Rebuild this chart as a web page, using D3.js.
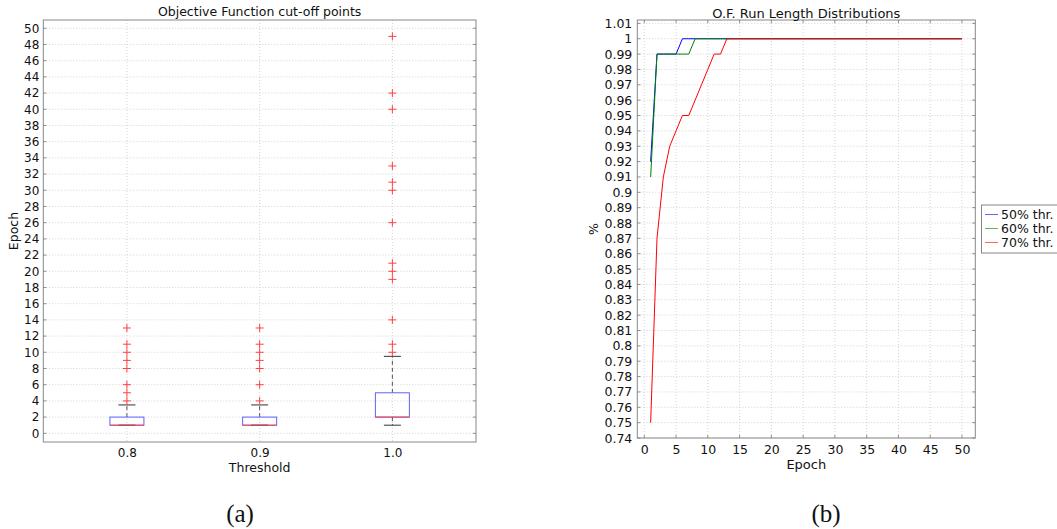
<!DOCTYPE html>
<html><head><meta charset="utf-8">
<script src="https://cdn.jsdelivr.net/npm/d3@7"></script>
<style>body{margin:0;background:#fff}svg{display:block}text{fill:#111;font-family:"DejaVu Sans",sans-serif}text.serif{font-family:"Liberation Serif",serif}</style>
</head><body><svg id="c" width="1057" height="529"></svg>
<script>
// ---- Panel (a) data ----
const categories = ["0.8", "0.9", "1.0"];
const q1 = [1, 1, 2];
const medians = [1, 1, 2];
const q3 = [2, 2, 5];
const whiskerLow = [1, 1, 1];
const whiskerHigh = [3.5, 3.5, 9.5];
const outliers08 = [4, 5, 6, 8, 9, 10, 11, 13];
const outliers09 = [4, 6, 8, 9, 10, 11, 13];
const outliers10 = [10, 11, 14, 19, 20, 21, 26, 30, 31, 33, 40, 42, 49];
const epochTicksA = [0,2,4,6,8,10,12,14,16,18,20,22,24,26,28,30,32,34,36,38,40,42,44,46,48,50];

// ---- Panel (b) data ----
const epochs = d3.range(1, 51);
const thr50 = [0.92,0.99,0.99,0.99,0.99,1,1,1,1,1, 1,1,1,1,1,1,1,1,1,1, 1,1,1,1,1,1,1,1,1,1, 1,1,1,1,1,1,1,1,1,1, 1,1,1,1,1,1,1,1,1,1];
const thr60 = [0.91,0.99,0.99,0.99,0.99,0.99,0.99,1,1,1, 1,1,1,1,1,1,1,1,1,1, 1,1,1,1,1,1,1,1,1,1, 1,1,1,1,1,1,1,1,1,1, 1,1,1,1,1,1,1,1,1,1];
const thr70 = [0.75,0.87,0.91,0.93,0.94,0.95,0.95,0.96,0.97,0.98, 0.99,0.99,1,1,1,1,1,1,1,1, 1,1,1,1,1,1,1,1,1,1, 1,1,1,1,1,1,1,1,1,1, 1,1,1,1,1,1,1,1,1,1];
const seriesNames = ["50% thr.", "60% thr.", "70% thr."];
const seriesColors = ["#0000ff", "#008000", "#ff0000"];
const pctTicks = [0.74,0.75,0.76,0.77,0.78,0.79,0.8,0.81,0.82,0.83,0.84,0.85,0.86,0.87,0.88,0.89,0.9,0.91,0.92,0.93,0.94,0.95,0.96,0.97,0.98,0.99,1,1.01];
const epochTicksB = [0,5,10,15,20,25,30,35,40,45,50];

const svg = d3.select("#c");
const gridStyle = g => g.attr("stroke", "#c8c8c8").attr("stroke-width", 0.8).attr("stroke-dasharray", "1,2");

// ================= Panel (a) =================
{
  const L = 43.3, R = 476, T = 20, B = 442;
  const x = d3.scaleLinear().domain([0.37, 3.63]).range([L, R]);
  const y = d3.scaleLinear().domain([-1.074, 51.02]).range([B, T]);
  const g = svg.append("g");
  g.append("g").selectAll("line").data(epochTicksA).join("line")
    .attr("x1", L).attr("x2", R).attr("y1", d => y(d)).attr("y2", d => y(d)).call(gridStyle);
  g.append("g").selectAll("line").data(categories).join("line")
    .attr("x1", (d, i) => x(i + 1)).attr("x2", (d, i) => x(i + 1)).attr("y1", T).attr("y2", B).call(gridStyle);
  const ya = d3.axisLeft(y).tickValues(epochTicksA).tickSize(0).tickPadding(4);
  g.append("g").attr("transform", `translate(${L},0)`).call(ya)
    .call(a => a.select(".domain").remove())
    .selectAll("text").attr("font-size", 12).attr("fill", "#111");
  const xa = d3.axisBottom(x).tickValues([1, 2, 3]).tickFormat((d) => categories[d - 1]).tickSize(0).tickPadding(6);
  g.append("g").attr("transform", `translate(0,${B})`).call(xa)
    .call(a => a.select(".domain").remove())
    .selectAll("text").attr("font-size", 12).attr("fill", "#111");
  epochTicksA.forEach(d => {
    g.append("line").attr("x1", L).attr("x2", L + 3).attr("y1", y(d)).attr("y2", y(d)).attr("stroke", "#444").attr("stroke-width", 0.6);
    g.append("line").attr("x1", R).attr("x2", R - 3).attr("y1", y(d)).attr("y2", y(d)).attr("stroke", "#444").attr("stroke-width", 0.6);
  });
  const bw = 34, cw = 17;
  const outl = [outliers08, outliers09, outliers10];
  categories.forEach((c, i) => {
    const cx = x(i + 1);
    g.append("line").attr("x1", cx).attr("x2", cx).attr("y1", y(q3[i])).attr("y2", y(whiskerHigh[i]))
      .attr("stroke", "#555").attr("stroke-dasharray", "4,3").attr("stroke-width", 1);
    g.append("line").attr("x1", cx).attr("x2", cx).attr("y1", y(q1[i])).attr("y2", y(whiskerLow[i]))
      .attr("stroke", "#555").attr("stroke-dasharray", "4,3").attr("stroke-width", 1);
    g.append("rect").attr("x", cx - bw / 2).attr("y", y(q3[i])).attr("width", bw).attr("height", y(q1[i]) - y(q3[i]))
      .attr("fill", "none").attr("stroke", "#6060ff").attr("stroke-width", 1);
    [whiskerHigh[i], whiskerLow[i]].forEach(v => {
      g.append("line").attr("x1", cx - cw / 2).attr("x2", cx + cw / 2).attr("y1", y(v)).attr("y2", y(v))
        .attr("stroke", "#333").attr("stroke-width", 1);
    });
    g.append("line").attr("x1", cx - bw / 2).attr("x2", cx + bw / 2).attr("y1", y(medians[i])).attr("y2", y(medians[i]))
      .attr("stroke", "#ff4040").attr("stroke-width", 1);
    outl[i].forEach(v => {
      g.append("path").attr("d", `M${cx - 4},${y(v)}h8M${cx},${y(v) - 4}v8`)
        .attr("stroke", "#ff4040").attr("stroke-width", 1).attr("fill", "none");
    });
  });
  g.append("rect").attr("x", L).attr("y", T).attr("width", R - L).attr("height", B - T)
    .attr("fill", "none").attr("stroke", "#888").attr("stroke-width", 1);
  g.append("text").attr("x", (L + R) / 2).attr("y", 16).attr("text-anchor", "middle").attr("font-size", 12.5).text("Objective Function cut-off points");
  g.append("text").attr("x", (L + R) / 2).attr("y", 472).attr("text-anchor", "middle").attr("font-size", 12.5).text("Threshold");
  g.append("text").attr("transform", `translate(18,${(T + B) / 2}) rotate(-90)`).attr("text-anchor", "middle").attr("font-size", 12.5).text("Epoch");
}

// ================= Panel (b) =================
{
  const L = 637.3, R = 975.3, T = 20, B = 438;
  const x = d3.scaleLinear().domain([-1.1, 52.1]).range([L, R]);
  const y = d3.scaleLinear().domain([0.74, 1.0122]).range([B, T]);
  const g = svg.append("g");
  g.append("g").selectAll("line").data(pctTicks).join("line")
    .attr("x1", L).attr("x2", R).attr("y1", d => y(d)).attr("y2", d => y(d)).call(gridStyle);
  g.append("g").selectAll("line").data(epochTicksB).join("line")
    .attr("x1", d => x(d)).attr("x2", d => x(d)).attr("y1", T).attr("y2", B).call(gridStyle);
  const ya = d3.axisLeft(y).tickValues(pctTicks).tickFormat(d => String(+d.toFixed(2))).tickSize(0).tickPadding(5);
  g.append("g").attr("transform", `translate(${L},0)`).call(ya)
    .call(a => a.select(".domain").remove())
    .selectAll("text").attr("font-size", 12.5).attr("fill", "#111");
  const xa = d3.axisBottom(x).tickValues(epochTicksB).tickSize(0).tickPadding(7);
  g.append("g").attr("transform", `translate(0,${B})`).call(xa)
    .call(a => a.select(".domain").remove())
    .selectAll("text").attr("font-size", 12.5).attr("fill", "#111");
  pctTicks.forEach(d => {
    g.append("line").attr("x1", L).attr("x2", L + 3).attr("y1", y(d)).attr("y2", y(d)).attr("stroke", "#444").attr("stroke-width", 0.6);
    g.append("line").attr("x1", R).attr("x2", R - 3).attr("y1", y(d)).attr("y2", y(d)).attr("stroke", "#444").attr("stroke-width", 0.6);
  });
  epochTicksB.forEach(d => {
    g.append("line").attr("x1", x(d)).attr("x2", x(d)).attr("y1", B).attr("y2", B - 3).attr("stroke", "#444").attr("stroke-width", 0.6);
    g.append("line").attr("x1", x(d)).attr("x2", x(d)).attr("y1", T).attr("y2", T + 3).attr("stroke", "#444").attr("stroke-width", 0.6);
  });
  const line = d3.line().x((d, i) => x(epochs[i])).y(d => y(d));
  [thr50, thr60, thr70].forEach((s, k) => {
    g.append("path").datum(s).attr("d", line).attr("fill", "none").attr("stroke", seriesColors[k]).attr("stroke-width", 1);
  });
  g.append("rect").attr("x", L).attr("y", T).attr("width", R - L).attr("height", B - T)
    .attr("fill", "none").attr("stroke", "#888").attr("stroke-width", 1);
  g.append("text").attr("x", (L + R) / 2).attr("y", 18).attr("text-anchor", "middle").attr("font-size", 13).text("O.F. Run Length Distributions");
  g.append("text").attr("x", (L + R) / 2).attr("y", 469).attr("text-anchor", "middle").attr("font-size", 13).text("Epoch");
  g.append("text").attr("transform", `translate(598,${(T + B) / 2}) rotate(-90)`).attr("text-anchor", "middle").attr("font-size", 12.5).text("%");
  const lg = g.append("g");
  lg.append("rect").attr("x", 981.5).attr("y", 205).attr("width", 90).attr("height", 48)
    .attr("fill", "#fff").attr("stroke", "#888").attr("stroke-width", 1);
  seriesNames.forEach((n, k) => {
    const yy = 214.5 + k * 14;
    lg.append("line").attr("x1", 985).attr("x2", 998).attr("y1", yy).attr("y2", yy).attr("stroke", seriesColors[k]).attr("stroke-width", 1).attr("opacity", 0.6);
    lg.append("text").attr("x", 1001).attr("y", yy + 4.5).attr("font-size", 12.5).text(n);
  });
}

// captions
svg.append("text").attr("class", "serif").attr("x", 240).attr("y", 522).attr("text-anchor", "middle").attr("font-size", 25).text("(a)");
svg.append("text").attr("class", "serif").attr("x", 826).attr("y", 522).attr("text-anchor", "middle").attr("font-size", 25).text("(b)");
</script></body></html>
